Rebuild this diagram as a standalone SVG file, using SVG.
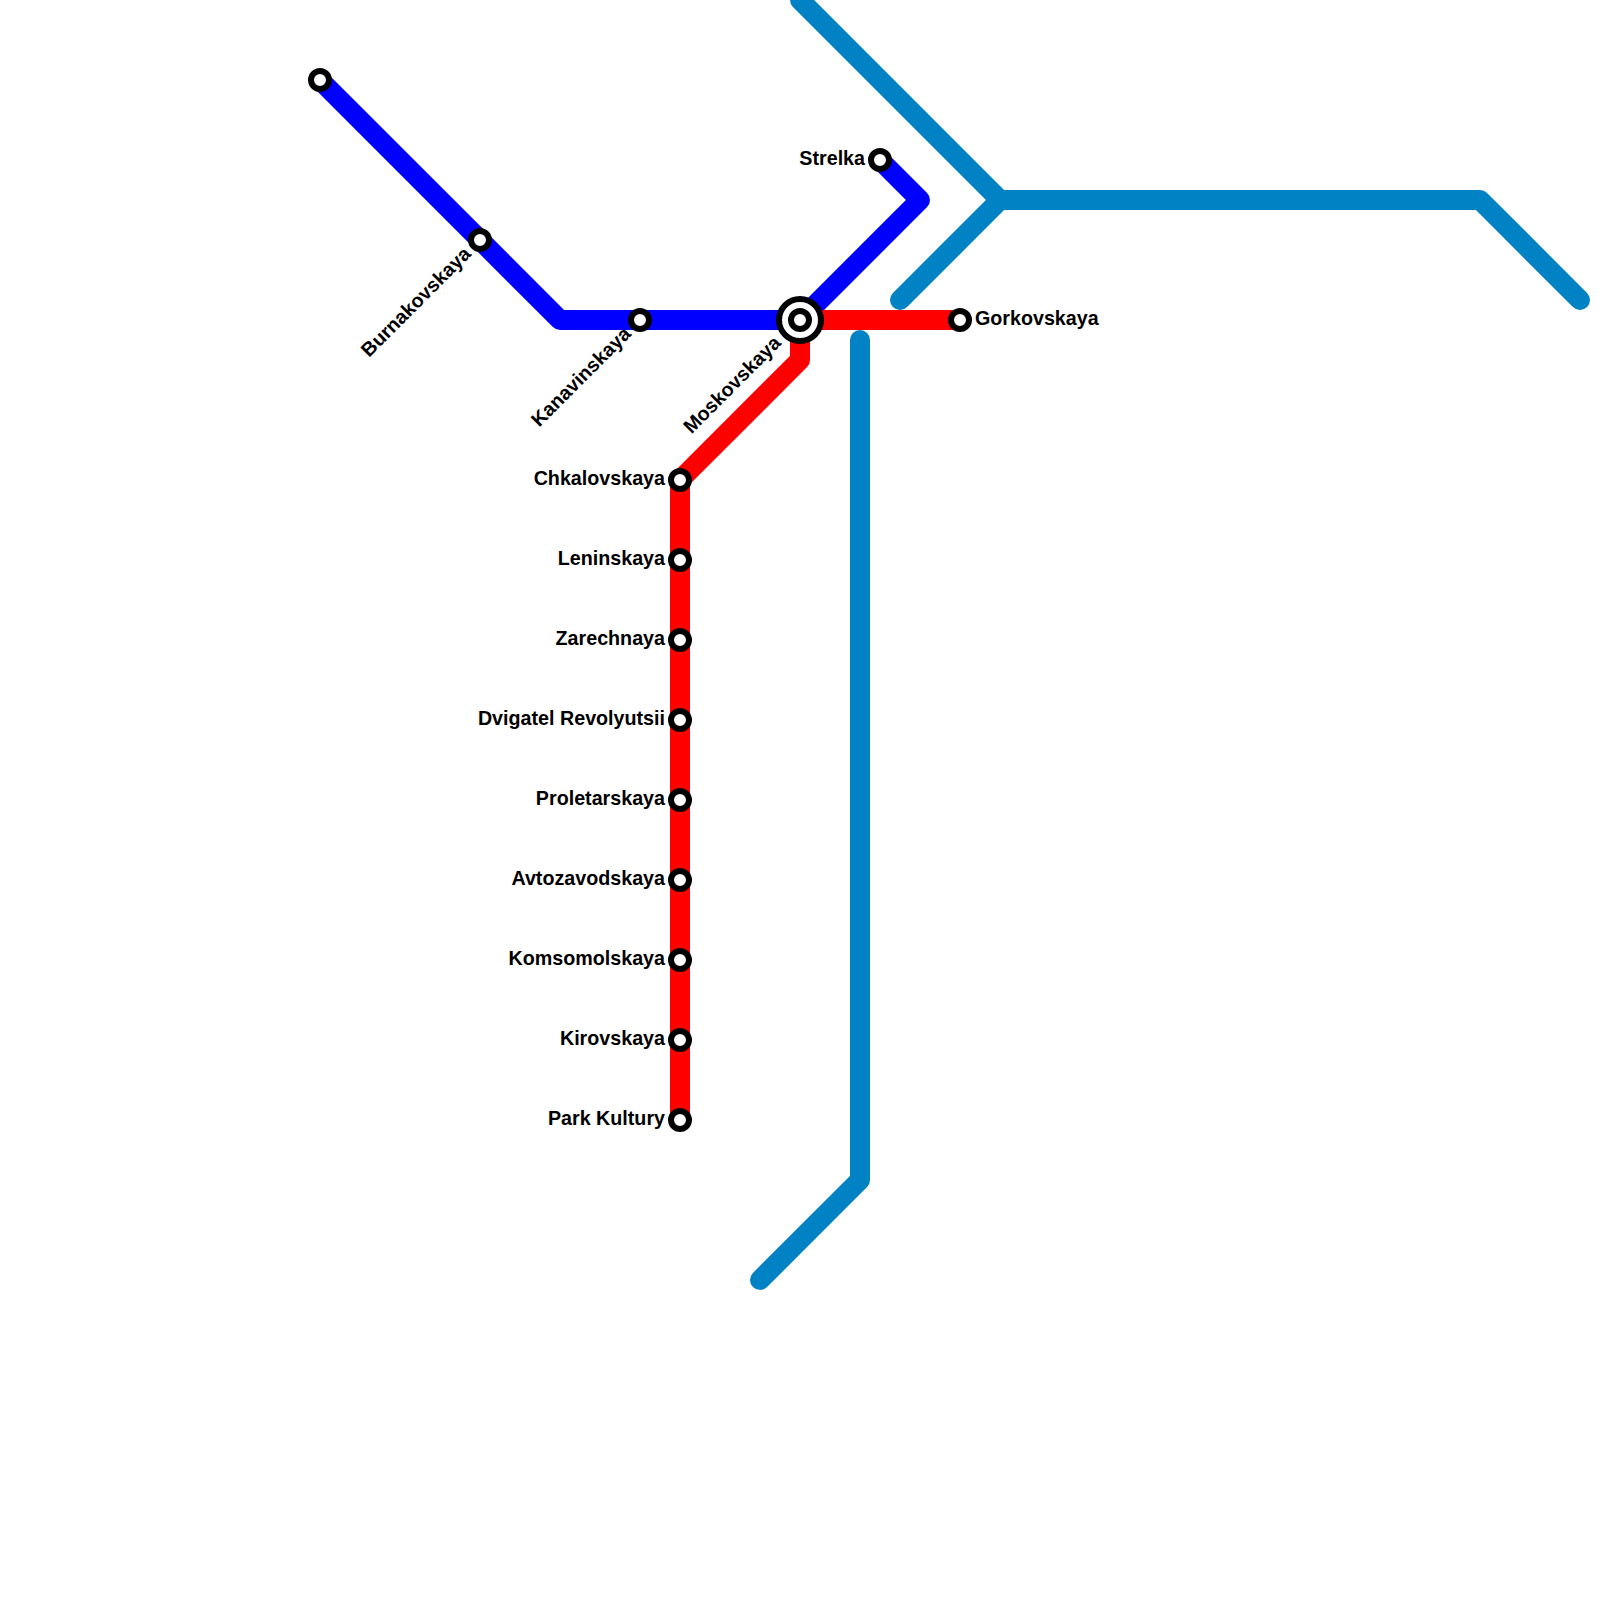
<svg xmlns="http://www.w3.org/2000/svg" width="1600" height="1600" viewBox="0 0 1600 1600">
<style>
.line{fill:none;stroke-width:20;stroke-linecap:round;stroke-linejoin:round}
.st{fill:#fff;stroke:#000;stroke-width:6}
.hub{fill:#fff;stroke:#000;stroke-width:6}
text{font-family:"Liberation Sans",Arial,sans-serif;font-weight:bold;font-size:19.7px;fill:#000}
.e{text-anchor:end}
</style>
<rect width="1600" height="1600" fill="#fff"/>
<g id="connectors">
<path class="line" stroke="#0082c4" d="M800 0L1000 200H1480L1580 300"/>
<path class="line" stroke="#0082c4" d="M900 300L1000 200"/>
<path class="line" stroke="#0082c4" d="M860 340V1180L760 1280"/>
<path class="line" stroke="#0000ff" d="M320 80L560 320H800L920 200L880 160"/>
<path class="line" stroke="#ff0000" d="M960 320H800V360L680 480V1120"/>
</g>
<g id="st-burnakovo"><circle class="st" cx="320" cy="80" r="9"/></g>
<g id="st-burnakovskaya"><circle class="st" cx="480" cy="240" r="9"/><text class="e" transform="translate(472 255) rotate(-45)">Burnakovskaya</text></g>
<g id="st-kanavinskaya"><circle class="st" cx="640" cy="320" r="9"/><text class="e" transform="translate(632 335) rotate(-45)">Kanavinskaya</text></g>
<g id="st-moskovskaya"><circle class="hub" cx="800" cy="320" r="21"/><circle class="st" cx="800" cy="320" r="9"/><text class="e" transform="translate(782 344) rotate(-45)">Moskovskaya</text></g>
<g id="st-gorkovskaya"><circle class="st" cx="960" cy="320" r="9"/><text x="975" y="325">Gorkovskaya</text></g>
<g id="st-strelka"><circle class="st" cx="880" cy="160" r="9"/><text class="e" x="865" y="165">Strelka</text></g>
<g id="st-chkalovskaya"><circle class="st" cx="680" cy="480" r="9"/><text class="e" x="665" y="485">Chkalovskaya</text></g>
<g id="st-leninskaya"><circle class="st" cx="680" cy="560" r="9"/><text class="e" x="665" y="565">Leninskaya</text></g>
<g id="st-zarechnaya"><circle class="st" cx="680" cy="640" r="9"/><text class="e" x="665" y="645">Zarechnaya</text></g>
<g id="st-dvigatel"><circle class="st" cx="680" cy="720" r="9"/><text class="e" x="665" y="725">Dvigatel Revolyutsii</text></g>
<g id="st-proletarskaya"><circle class="st" cx="680" cy="800" r="9"/><text class="e" x="665" y="805">Proletarskaya</text></g>
<g id="st-avtozavodskaya"><circle class="st" cx="680" cy="880" r="9"/><text class="e" x="665" y="885">Avtozavodskaya</text></g>
<g id="st-komsomolskaya"><circle class="st" cx="680" cy="960" r="9"/><text class="e" x="665" y="965">Komsomolskaya</text></g>
<g id="st-kirovskaya"><circle class="st" cx="680" cy="1040" r="9"/><text class="e" x="665" y="1045">Kirovskaya</text></g>
<g id="st-park-kultury"><circle class="st" cx="680" cy="1120" r="9"/><text class="e" x="665" y="1125">Park Kultury</text></g>
</svg>
